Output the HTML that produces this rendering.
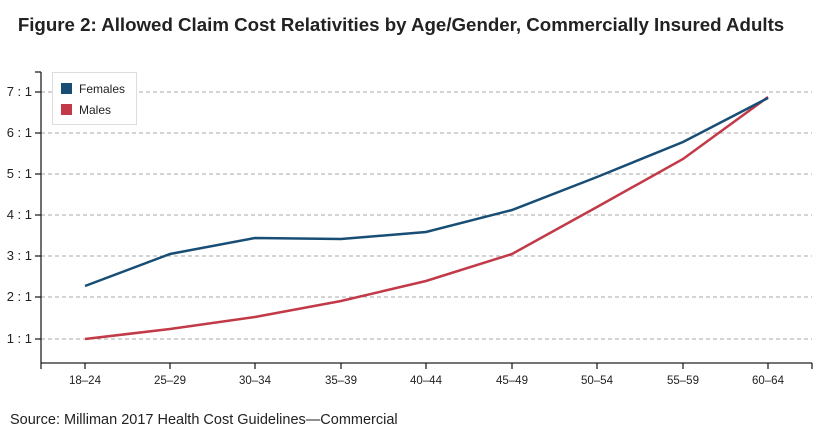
<!DOCTYPE html>
<html><head><meta charset="utf-8"><style>
body{margin:0;background:#fff;}
svg text{font-family:"Liberation Sans",sans-serif;}
</style></head><body>
<svg width="836" height="439" viewBox="0 0 836 439" xmlns="http://www.w3.org/2000/svg">
<text x="401" y="31" text-anchor="middle" font-size="18.7" font-weight="bold" fill="#222">Figure 2: Allowed Claim Cost Relativities by Age/Gender, Commercially Insured Adults</text>
<g stroke="#aaa" stroke-dasharray="4,3" stroke-width="1">
<line x1="41" x2="812" y1="92" y2="92"/><line x1="41" x2="812" y1="133" y2="133"/><line x1="41" x2="812" y1="174" y2="174"/><line x1="41" x2="812" y1="215" y2="215"/><line x1="41" x2="812" y1="256" y2="256"/><line x1="41" x2="812" y1="297" y2="297"/><line x1="41" x2="812" y1="339" y2="339"/>
</g>
<g stroke="#222" stroke-width="1.3">
<line x1="41" y1="72" x2="41" y2="363"/><line x1="35" y1="72" x2="41" y2="72"/>
<line x1="41" y1="363" x2="812" y2="363"/>
<line x1="35" y1="92" x2="41" y2="92"/><line x1="35" y1="133" x2="41" y2="133"/><line x1="35" y1="174" x2="41" y2="174"/><line x1="35" y1="215" x2="41" y2="215"/><line x1="35" y1="256" x2="41" y2="256"/><line x1="35" y1="297" x2="41" y2="297"/><line x1="35" y1="339" x2="41" y2="339"/>
<line x1="41" y1="363" x2="41" y2="369"/><line x1="85" y1="363" x2="85" y2="369"/><line x1="170" y1="363" x2="170" y2="369"/><line x1="255" y1="363" x2="255" y2="369"/><line x1="341" y1="363" x2="341" y2="369"/><line x1="426" y1="363" x2="426" y2="369"/><line x1="512" y1="363" x2="512" y2="369"/><line x1="597" y1="363" x2="597" y2="369"/><line x1="683" y1="363" x2="683" y2="369"/><line x1="768" y1="363" x2="768" y2="369"/><line x1="812" y1="363" x2="812" y2="369"/>
</g>
<g font-size="13" fill="#222" text-anchor="end">
<text x="32" y="96">7 : 1</text><text x="32" y="137">6 : 1</text><text x="32" y="178">5 : 1</text><text x="32" y="219">4 : 1</text><text x="32" y="260">3 : 1</text><text x="32" y="301">2 : 1</text><text x="32" y="343">1 : 1</text>
</g>
<g font-size="11.5" fill="#222" text-anchor="middle">
<text x="85" y="384">18–24</text><text x="170" y="384">25–29</text><text x="255" y="384">30–34</text><text x="341" y="384">35–39</text><text x="426" y="384">40–44</text><text x="512" y="384">45–49</text><text x="597" y="384">50–54</text><text x="683" y="384">55–59</text><text x="768" y="384">60–64</text>
</g>
<polyline fill="none" stroke="#c23a47" stroke-width="2.5" points="85,339 170,329 255,317 341,301 426,281 512,254 597,207 683,159 768,97"/>
<polyline fill="none" stroke="#184e75" stroke-width="2.5" points="85,286 170,254 255,238 341,239 426,232 512,210 597,177 683,142 768,98"/>
<rect x="52.5" y="72.5" width="84" height="52" fill="#fff" stroke="#ddd"/>
<rect x="61" y="83" width="11" height="11" fill="#184e75"/>
<rect x="61" y="104" width="11" height="11" fill="#c23a47"/>
<text x="79" y="93" font-size="12" fill="#222">Females</text>
<text x="79" y="114" font-size="12" fill="#222">Males</text>
<text x="10" y="424" font-size="14.5" fill="#222">Source: Milliman 2017 Health Cost Guidelines—Commercial</text>
</svg>
</body></html>
